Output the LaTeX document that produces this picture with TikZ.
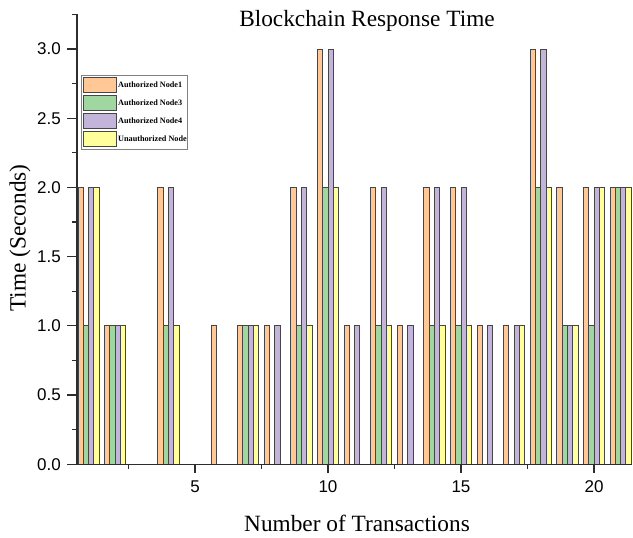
\documentclass[tikz,border=0pt]{standalone}
\usepackage{fontspec}
\setmainfont{Liberation Serif}
\setsansfont{Liberation Sans}

\definecolor{nodeone}{RGB}{255,200,150}
\definecolor{nodethree}{RGB}{160,215,160}
\definecolor{nodefour}{RGB}{195,180,218}
\definecolor{unauth}{RGB}{255,255,155}
\definecolor{barline}{RGB}{70,70,70}
\definecolor{axisline}{RGB}{45,45,45}

% data -> picture coordinates (1 unit = 1pt, y downward)
\def\xo{62}\def\xs{26.6}\def\yo{464.2}\def\ys{138.4}

\tikzset{
  barbox/.style={draw=barline, line width=0.9pt},
  axisstroke/.style={draw=axisline, line width=1.4pt},
  tickstroke/.style={draw=axisline, line width=1.1pt},
  ticklabel/.style={font=\sffamily\fontsize{17}{17}\selectfont, inner sep=0pt},
  axistitle/.style={font=\fontsize{23.3}{23.3}\selectfont, inner sep=0pt},
  legendtext/.style={font=\bfseries\fontsize{8.2}{8.2}\selectfont, inner sep=0pt, anchor=west},
}

% one bar: transaction, slot (0..3), value, fill colour
\newcommand\drawbar[4]{%
  \ifnum#3>0
    \pgfmathsetmacro\bl{\xo+\xs*#1-10.64+5.32*#2}%
    \pgfmathsetmacro\br{\bl+5.32}%
    \pgfmathsetmacro\bt{\yo-\ys*#3}%
    \path[barbox, fill=#4] (\bl,\yo) rectangle (\br,\bt);
  \fi}

\begin{document}
\begin{tikzpicture}[x=1pt,y=-1pt]
\useasboundingbox (0,0) rectangle (633,538);

% bars
\foreach \i/\a/\b/\c/\d in {1/2/1/2/2, 2/1/1/1/1, 3/0/0/0/0, 4/2/1/2/1,
  5/0/0/0/0, 6/1/0/0/0, 7/1/1/1/1, 8/1/0/1/0, 9/2/1/2/1, 10/3/2/3/2,
  11/1/0/1/0, 12/2/1/2/1, 13/1/0/1/0, 14/2/1/2/1, 15/2/1/2/1, 16/1/0/1/0,
  17/1/0/1/1, 18/3/2/3/2, 19/2/1/1/1, 20/2/1/2/2, 21/2/2/2/2}{
  \drawbar{\i}{0}{\a}{nodeone}
  \drawbar{\i}{1}{\b}{nodethree}
  \drawbar{\i}{2}{\c}{nodefour}
  \drawbar{\i}{3}{\d}{unauth}
}

% axes
\coordinate (top) at (77,14);
\coordinate (origin) at (77,\yo);
\coordinate (right) at (632,\yo);
\draw[axisstroke] (top) -- (origin) -- (right);

% y ticks: long every 0.5, short in between
\foreach \k in {0,...,13}{
  \pgfmathsetmacro\ty{\yo-\ys*0.25*\k}
  \ifodd\k
    \draw[tickstroke] (72,\ty) -- (77,\ty);
  \else
    \draw[tickstroke] (67,\ty) -- (77,\ty);
  \fi
}
% y tick labels
\foreach \v/\t in {0/0.0, 0.5/0.5, 1/1.0, 1.5/1.5, 2/2.0, 2.5/2.5, 3/3.0}{
  \pgfmathsetmacro\ty{\yo-\ys*\v}
  \node[ticklabel, anchor=east] at (61,\ty) {\t};
}

% x ticks and labels
\foreach \v in {5,10,15,20}{
  \pgfmathsetmacro\tx{\xo+\xs*\v}
  \draw[tickstroke] (\tx,\yo) -- (\tx,\yo+9);
  \node[ticklabel] at (\tx,487) {\v};
}
\foreach \v in {2.5,7.5,12.5,17.5}{
  \pgfmathsetmacro\tx{\xo+\xs*\v}
  \draw[tickstroke] (\tx,\yo) -- (\tx,\yo+4.5);
}

% titles
\node[axistitle] (title) at (367,21) {Blockchain Response Time};
\node[axistitle] (xlabel) at (357,523) {Number of Transactions};
\node[axistitle, rotate=90] (ylabel) at (20,238) {Time (Seconds)};

% legend
\node[draw=gray, line width=0.8pt, minimum width=106pt, minimum height=74pt,
      inner sep=0pt, anchor=north west] (legend) at (81,75) {};
\foreach \r/\c/\t in {0/nodeone/Authorized Node1, 1/nodethree/Authorized Node3,
                      2/nodefour/Authorized Node4, 3/unauth/Unauthorized Node}{
  \pgfmathsetmacro\ry{77+18*\r}
  \path[barbox, line width=0.8pt, fill=\c] (83.5,\ry) rectangle (116.5,\ry+15.5);
  \node[legendtext] at (118,\ry+8) {\t};
}
\end{tikzpicture}
\end{document}
